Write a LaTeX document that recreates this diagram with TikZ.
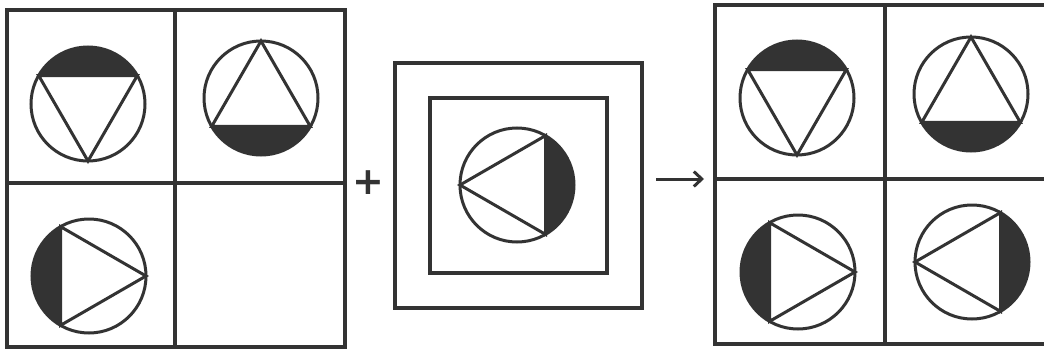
\documentclass[tikz,border=0pt]{standalone}
\usepackage{fontspec}
\usepackage{tikz}
\usetikzlibrary{arrows.meta}
\newfontfamily\signfont{DejaVu Sans}
\definecolor{ink}{HTML}{333333}
\newcommand{\ringr}{57}
% circle node #1 with an inscribed triangle, apex at angle #2; the cap opposite the apex is filled
\newcommand{\cirtri}[2]{%
  \pgfmathtruncatemacro{\angb}{#2+120}\pgfmathtruncatemacro{\angc}{#2+240}%
  \fill[ink] (#1.\angb) arc[start angle=\angb, end angle=\angc, radius=\ringr] -- cycle;
  \draw[figline] (#1.#2) -- (#1.\angb) -- (#1.\angc) -- cycle;
}
\tikzset{
  figline/.style = {ink,line width=3pt,line join=miter},
  ring/.style    = {circle,draw=ink,line width=3pt,minimum size=114pt,inner sep=0pt,outer sep=0pt},
  gridline/.style= {ink,line width=3.2pt},
  opsign/.style  = {ink,font=\signfont\bfseries\fontsize{38}{38}\selectfont,inner sep=0pt}
}
\begin{document}
\begin{tikzpicture}[x=1pt,y=1pt]
  \useasboundingbox (0,0) rectangle (1044,349);
  % --- left grid, bottom right cell left empty
  \draw[gridline] (7,2) rectangle (345,339);
  \draw[gridline] (175,2) -- (175,339);
  \draw[gridline] (7,166) -- (345,166);
  \node[ring] (ltl) at (88,245) {};
  \node[ring] (ltr) at (261,251) {};
  \node[ring] (lbl) at (89,73) {};
  \cirtri{ltl}{270}
  \cirtri{ltr}{90}
  \cirtri{lbl}{0}
  % --- plus
  \node[opsign] (plus) at (368,166) {+};
  % --- middle: two nested squares
  \draw[gridline] (395,41) rectangle (642,286);
  \draw[gridline] (430,76) rectangle (607,251);
  \node[ring] (mid) at (517,164) {};
  \cirtri{mid}{180}
  % --- arrow
  \coordinate (arrs) at (656,170);
  \coordinate (arre) at (704,170);
  \draw[ink,line width=3pt,-{Straight Barb[length=8pt,width=15pt]}] (arrs) -- (arre);
  % --- right grid, all four cells filled in
  \draw[gridline] (715,5) rectangle (1048,344);
  \draw[gridline] (885,5) -- (885,344);
  \draw[gridline] (715,170) -- (1048,170);
  \node[ring] (rtl) at (797,251) {};
  \node[ring] (rtr) at (971,255) {};
  \node[ring] (rbl) at (798,77) {};
  \node[ring] (rbr) at (972,87) {};
  \cirtri{rtl}{270}
  \cirtri{rtr}{90}
  \cirtri{rbl}{0}
  \cirtri{rbr}{180}
\end{tikzpicture}
\end{document}
